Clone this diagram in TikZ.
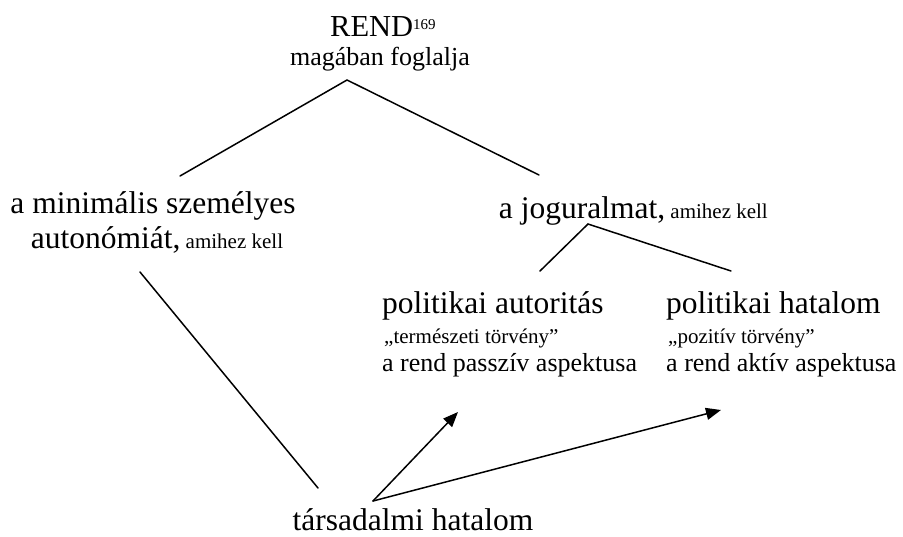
\documentclass[tikz,border=0pt]{standalone}
\usepackage{fontspec}
\setmainfont{Liberation Serif}
\usetikzlibrary{arrows.meta}
\tikzset{
  big/.style={font=\fontsize{31.5}{34}\selectfont, inner sep=0pt, anchor=base},
  mid/.style={font=\fontsize{26}{28}\selectfont, inner sep=0pt, anchor=base},
  sml/.style={font=\fontsize{21}{24}\selectfont, inner sep=0pt, anchor=base},
  conn/.style={line width=1.5pt, line cap=round, line join=miter},
  arr/.style={conn, -{Triangle[length=15pt,width=12pt]}}
}
\newcommand{\smalltxt}[1]{{\fontsize{21}{24}\selectfont #1}}
\begin{document}
\begin{tikzpicture}[x=1pt,y=-1pt]
\useasboundingbox (0,0) rectangle (903,536);
% texts
\node[big, font=\fontsize{30.5}{34}\selectfont, anchor=base west] (rend) at (330,36) {REND\raisebox{7pt}{\fontsize{15}{15}\selectfont 169}};
\node[mid] (fog) at (380,65) {magában foglalja};
\node[big] (min1) at (153,213) {a minimális személyes};
\node[big] (min2) at (157,248) {autonómiát,\smalltxt{ amihez kell}};
\node[big, anchor=base east] (jog) at (768,218) {a joguralmat,\smalltxt{ amihez kell}};
\node[big, anchor=base west] (pa1) at (382,313) {politikai autoritás};
\node[sml, anchor=base west] (pa2) at (384,343) {„természeti törvény”};
\node[mid, anchor=base west] (pa3) at (382,371) {a rend passzív aspektusa};
\node[big, anchor=base west] (ph1) at (666,313) {politikai hatalom};
\node[sml, anchor=base west] (ph2) at (668,343) {„pozitív törvény”};
\node[mid, anchor=base west] (ph3) at (666,371) {a rend aktív aspektusa};
\node[big] (tars) at (413,530) {társadalmi hatalom};
% connector points
\coordinate (apex) at (347,80);
\coordinate (aL) at (180,176);
\coordinate (aR) at (539,175);
\coordinate (japex) at (588,224);
\coordinate (jL) at (540,271);
\coordinate (jR) at (731,271);
\coordinate (mS) at (140,272);
\coordinate (mE) at (318,488);
\coordinate (tO) at (373,501);
\coordinate (tA) at (458,412);
\coordinate (tH) at (721,410);
% connectors
\draw[conn] (aL) -- (apex) -- (aR);
\draw[conn] (jL) -- (japex) -- (jR);
\draw[conn] (mS) -- (mE);
\draw[arr] (tO) -- (tA);
\draw[arr] (tO) -- (tH);
\end{tikzpicture}
\end{document}
